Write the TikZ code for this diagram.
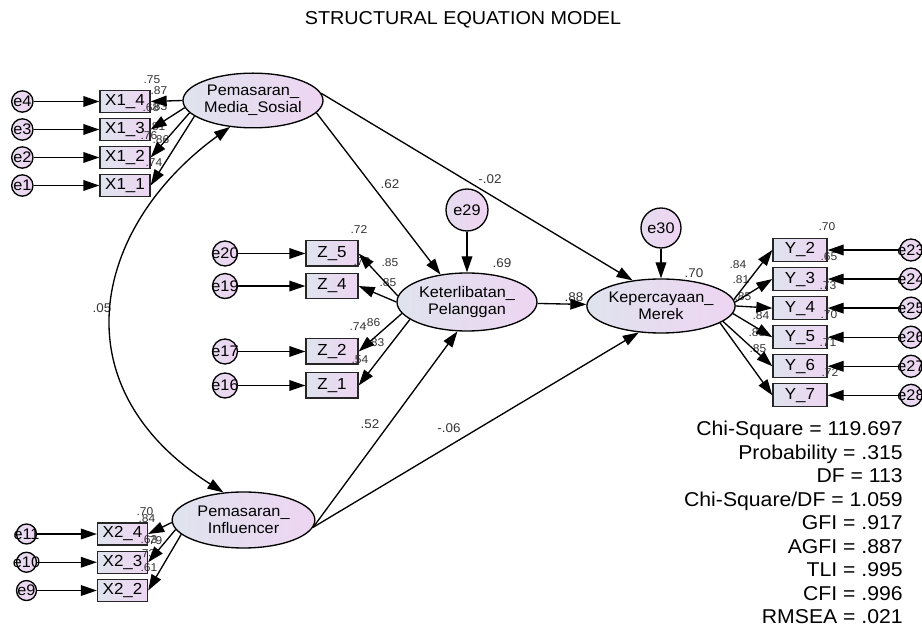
\documentclass[tikz,border=0pt]{standalone}
\usepackage{fontspec}
\setmainfont{Liberation Sans}[FakeStretch=1.06]
\usepackage{tikz}
\usetikzlibrary{shapes.geometric, arrows.meta, positioning}

\definecolor{shadeleft}{HTML}{DFE3EE}
\definecolor{shaderight}{HTML}{EED5F2}
\definecolor{errleft}{HTML}{E6DCEF}
\definecolor{errright}{HTML}{EFD4F2}

\newcommand{\elab}[1]{\makebox[0pt]{#1}}

\tikzstyle{latent} = [ellipse, draw=black, line width=1pt, minimum width=105pt, minimum height=42pt, inner sep=0pt, align=center, left color=shadeleft, right color=shaderight, font=\fontsize{11.5}{13}\selectfont]
\tikzstyle{observed} = [rectangle, draw=black!85, line width=1pt, minimum width=37.5pt, minimum height=16.5pt, inner sep=0pt, left color=shadeleft, right color=shaderight, font=\fontsize{12}{13}\selectfont]
\tikzstyle{zbox} = [observed, minimum width=39pt, minimum height=19pt]
\tikzstyle{ybox} = [observed, minimum width=40.5pt, minimum height=17.25pt]
\tikzstyle{errnode} = [circle, draw=black, line width=1pt, minimum size=16pt, inner sep=0pt, left color=errleft, right color=errright, font=\fontsize{11.5}{13}\selectfont]
\tikzstyle{arrow} = [line width=1pt, -{Triangle[length=12pt,width=8pt]}]
\tikzstyle{dblarrow} = [line width=1pt, {Triangle[length=12pt,width=8pt]}-{Triangle[length=12pt,width=8pt]}]
\tikzstyle{coef} = [inner sep=0pt, text=black!80, font=\fontsize{8.5}{9}\selectfont]
\tikzstyle{pathcoef} = [inner sep=0pt, text=black!80, font=\fontsize{9.5}{10}\selectfont]
\tikzstyle{stats} = [inner sep=0pt, align=right, font=\fontsize{15}{17.6}\selectfont]

\begin{document}
\begin{tikzpicture}[x=0.75pt, y=-0.75pt]
    \useasboundingbox (0,0) rectangle (922,630);

    % Title
    \node (title) [font=\fontsize{14}{16}\selectfont] at (463,19.5) {STRUCTURAL EQUATION MODEL};

    % Latent variables
    \node (media_sosial) [latent, minimum height=41pt] at (253,100.5) {Pemasaran\_\\Media\_Sosial};
    \node (keterlibatan) [latent, minimum height=43.5pt] at (467,302) {Keterlibatan\_\\Pelanggan};
    \node (kepercayaan) [latent, minimum width=102pt, minimum height=40.5pt] at (661,306) {Kepercayaan\_\\Merek};
    \node (influencer) [latent, minimum width=107pt] at (243.5,520) {Pemasaran\_\\Influencer};

    % Pemasaran_Media_Sosial indicators
    \node (x1_4) [observed] at (125,101.5) {X1\_4};
    \node (x1_3) [observed, node distance=21pt, below of=x1_4] {X1\_3};
    \node (x1_2) [observed, node distance=21pt, below of=x1_3] {X1\_2};
    \node (x1_1) [observed, node distance=21pt, below of=x1_2] {X1\_1};
    \node (e4) [errnode, node distance=77pt, left of=x1_4] {\elab{e4}};
    \node (e3) [errnode, node distance=77pt, left of=x1_3] {\elab{e3}};
    \node (e2) [errnode, node distance=77pt, left of=x1_2] {\elab{e2}};
    \node (e1) [errnode, node distance=77pt, left of=x1_1] {\elab{e1}};

    % Pemasaran_Influencer indicators
    \node (x2_4) [observed] at (122.5,534) {X2\_4};
    \node (x2_3) [observed, node distance=21.2pt, below of=x2_4] {X2\_3};
    \node (x2_2) [observed, node distance=21.2pt, below of=x2_3] {X2\_2};
    \node (e11) [errnode, minimum size=15pt, node distance=72pt, left of=x2_4] {\elab{e11}};
    \node (e10) [errnode, minimum size=15pt, node distance=72pt, left of=x2_3] {\elab{e10}};
    \node (e9) [errnode, minimum size=15pt, node distance=72pt, left of=x2_2] {\elab{e9}};

    % Keterlibatan_Pelanggan indicators
    \node (z_5) [zbox] at (332,253.5) {Z\_5};
    \node (z_4) [zbox, node distance=24.4pt, below of=z_5] {Z\_4};
    \node (z_2) [zbox] at (332,351.5) {Z\_2};
    \node (z_1) [zbox, node distance=25.5pt, below of=z_2] {Z\_1};
    \node (e20) [errnode, minimum size=18.75pt, node distance=80.25pt, left of=z_5] {\elab{e20}};
    \node (e19) [errnode, minimum size=18.75pt, node distance=80.25pt, left of=z_4] {\elab{e19}};
    \node (e17) [errnode, minimum size=18.75pt, node distance=80.25pt, left of=z_2] {\elab{e17}};
    \node (e16) [errnode, minimum size=18.75pt, node distance=80.25pt, left of=z_1] {\elab{e16}};
    \node (e29) [errnode, minimum size=31.5pt, node distance=69pt, above of=keterlibatan] {\elab{e29}};

    % Kepercayaan_Merek indicators
    \node (y_2) [ybox] at (800,250) {Y\_2};
    \node (y_3) [ybox, node distance=21.8pt, below of=y_2] {Y\_3};
    \node (y_4) [ybox, node distance=21.8pt, below of=y_3] {Y\_4};
    \node (y_5) [ybox, node distance=21.8pt, below of=y_4] {Y\_5};
    \node (y_6) [ybox, node distance=21.8pt, below of=y_5] {Y\_6};
    \node (y_7) [ybox, node distance=21.8pt, below of=y_6] {Y\_7};
    \node (e23) [errnode, minimum size=16.5pt, node distance=83.25pt, right of=y_2] {\elab{e23}};
    \node (e24) [errnode, minimum size=16.5pt, node distance=83.25pt, right of=y_3] {\elab{e24}};
    \node (e25) [errnode, minimum size=16.5pt, node distance=83.25pt, right of=y_4] {\elab{e25}};
    \node (e26) [errnode, minimum size=16.5pt, node distance=83.25pt, right of=y_5] {\elab{e26}};
    \node (e27) [errnode, minimum size=16.5pt, node distance=83.25pt, right of=y_6] {\elab{e27}};
    \node (e28) [errnode, minimum size=16.5pt, node distance=83.25pt, right of=y_7] {\elab{e28}};
    \node (e30) [errnode, minimum size=30pt, node distance=58.5pt, above of=kepercayaan] {\elab{e30}};

    % Loadings and squared multiple correlations
    \node (c_x1_4r) [coef] at (152,80) {.75};
    \node (c_x1_4) [coef] at (159,91) {.87};
    \node (c_x1_3r) [coef] at (151,108) {.68};
    \node (c_x1_3) [coef] at (159,107) {.83};
    \node (c_x1_2r) [coef] at (157,127) {.81};
    \node (c_x1_2) [coef] at (149,136) {.76};
    \node (c_x1_1r) [coef] at (161,140) {.86};
    \node (c_x1_1) [coef] at (154,163) {.74};
    \node (c_x2_4r) [coef] at (145,512) {.70};
    \node (c_x2_4) [coef] at (147,519) {.84};
    \node (c_x2_3r) [coef] at (149,540) {.63};
    \node (c_x2_3) [coef] at (154,541) {.79};
    \node (c_x2_2r) [coef] at (147,554) {.73};
    \node (c_x2_2) [coef] at (149,568) {.61};
    \node (c_z_5r) [coef] at (359,230) {.72};
    \node (c_z_4r) [coef] at (362,262) {.72};
    \node (c_z_5) [coef] at (390,263) {.85};
    \node (c_z_4) [coef] at (388,283) {.85};
    \node (c_z_2r) [coef] at (358,327) {.74};
    \node (c_z_2) [coef] at (372,323) {.86};
    \node (c_z_1r) [coef] at (376,343) {.83};
    \node (c_z_1) [coef] at (360,360) {.54};
    \node (c_y_2r) [coef] at (827,227) {.70};
    \node (c_y_2) [coef] at (738,265) {.84};
    \node (c_y_3) [coef] at (741,280) {.81};
    \node (c_y_4) [coef] at (743,297) {.85};
    \node (c_y_5) [coef] at (761,316) {.84};
    \node (c_y_6) [coef] at (757,333) {.85};
    \node (c_y_7) [coef] at (758,349) {.85};
    \node (c_y_3r) [coef] at (829,257) {.65};
    \node (c_y_4r) [coef] at (828,286) {.73};
    \node (c_y_5r) [coef] at (829,315) {.70};
    \node (c_y_6r) [coef] at (828,343) {.71};
    \node (c_y_7r) [coef] at (830,373) {.72};

    % Structural coefficients
    \node (c_ms_kp) [pathcoef] at (390,184) {.62};
    \node (c_ms_km) [pathcoef] at (490,179) {-.02};
    \node (c_kp_r) [pathcoef] at (502,263) {.69};
    \node (c_kp_km) [pathcoef] at (574,297) {.88};
    \node (c_km_r) [pathcoef] at (694,273) {.70};
    \node (c_in_kp) [pathcoef] at (370,424) {.52};
    \node (c_in_km) [pathcoef] at (449,428) {-.06};
    \node (c_cov) [pathcoef] at (102,308) {.05};

    % Measurement paths
    \draw [arrow] (media_sosial.180) -- (x1_4.east);
    \draw [arrow] (media_sosial.186) -- (x1_3.east);
    \draw [arrow] (media_sosial.191) -- (x1_2.east);
    \draw [arrow] (media_sosial.195) -- (x1_1.east);
    \draw [arrow] (e4) -- (x1_4);
    \draw [arrow] (e3) -- (x1_3);
    \draw [arrow] (e2) -- (x1_2);
    \draw [arrow] (e1) -- (x1_1);

    \draw [arrow] (influencer.182) -- (x2_4.east);
    \draw [arrow] (influencer.188) -- (x2_3.east);
    \draw [arrow] (influencer.193) -- (x2_2.east);
    \draw [arrow] (e11) -- (x2_4);
    \draw [arrow] (e10) -- (x2_3);
    \draw [arrow] (e9) -- (x2_2);

    \draw [arrow] (keterlibatan.175) -- (z_5.east);
    \draw [arrow] (keterlibatan.180) -- (z_4.east);
    \draw [arrow] (keterlibatan.190) -- (z_2.east);
    \draw [arrow] (keterlibatan.197) -- (z_1.east);
    \draw [arrow] (e20) -- (z_5);
    \draw [arrow] (e19) -- (z_4);
    \draw [arrow] (e17) -- (z_2);
    \draw [arrow] (e16) -- (z_1);

    \draw [arrow] (kepercayaan.5) -- (y_2.west);
    \draw [arrow] (kepercayaan.3) -- (y_3.west);
    \draw [arrow] (kepercayaan.0) -- (y_4.west);
    \draw [arrow] (kepercayaan.-6) -- (y_5.west);
    \draw [arrow] (kepercayaan.-14) -- (y_6.west);
    \draw [arrow] (kepercayaan.-16) -- (y_7.west);
    \draw [arrow] (e23) -- (y_2);
    \draw [arrow] (e24) -- (y_3);
    \draw [arrow] (e25) -- (y_4);
    \draw [arrow] (e26) -- (y_5);
    \draw [arrow] (e27) -- (y_6);
    \draw [arrow] (e28) -- (y_7);

    % Structural paths
    \draw [arrow] (media_sosial.-11) -- (keterlibatan.134);
    \draw [arrow] (media_sosial.6) -- (kepercayaan.138);
    \draw [arrow] (influencer.-6) -- (keterlibatan.-108);
    \draw [arrow] (influencer.-6) -- (kepercayaan.230);
    \draw [arrow] (keterlibatan) -- (kepercayaan);
    \draw [arrow] (e29) -- (keterlibatan);
    \draw [arrow] (e30) -- (kepercayaan);

    % Covariance
    \draw [dblarrow] (media_sosial.229) .. controls (95,225) and (55,385) .. (influencer.126);

    % Fit indices
    \node (fit_stats) [stats, anchor=north east] at (903,421) {Chi-Square = 119.697\\Probability = .315\\DF = 113\\Chi-Square/DF = 1.059\\GFI = .917\\AGFI = .887\\TLI = .995\\CFI = .996\\RMSEA = .021};
\end{tikzpicture}
\end{document}
